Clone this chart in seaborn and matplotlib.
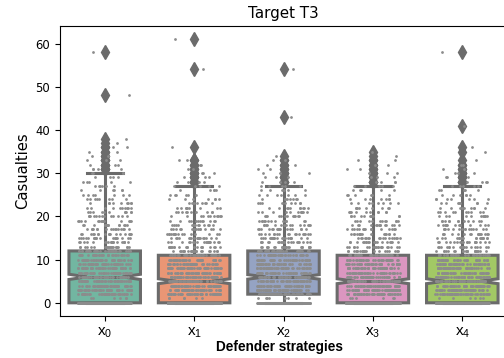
import numpy as np
import pandas as pd
import matplotlib
matplotlib.use("Agg")
import matplotlib.pyplot as plt
import seaborn as sns

# Casualty counts per integer value (index = casualties) for each strategy
counts_x0 = [280, 6, 40, 45, 45, 45, 45, 45, 42, 40, 38, 36, 34,
             22, 20, 19, 18, 16, 15, 14, 13, 11, 10, 9, 8, 7, 6, 6, 5, 4, 4,
             4, 3, 3, 2, 2, 2, 1, 1]
counts_x1 = [290, 6, 45, 48, 48, 48, 46, 44, 42, 40, 36, 34,
             22, 20, 19, 18, 16, 15, 14, 12, 11, 10, 9, 8, 7, 6, 5, 5,
             4, 3, 3, 2, 2, 2, 0, 0, 1]
counts_x2 = [200, 8, 60, 50, 48, 46, 46, 44, 42, 40, 38, 34, 34,
             22, 20, 19, 18, 16, 15, 13, 12, 11, 10, 9, 8, 7, 6, 5,
             4, 3, 3, 2, 2, 2, 1]
counts_x3 = [285, 6, 46, 48, 48, 48, 46, 44, 42, 40, 36, 34,
             22, 20, 19, 17, 16, 15, 14, 12, 11, 10, 9, 8, 7, 6, 5, 5,
             4, 3, 3, 2, 2, 2, 1, 1]
counts_x4 = [280, 6, 45, 48, 48, 50, 46, 44, 42, 40, 36, 34,
             22, 20, 19, 17, 16, 15, 14, 12, 11, 10, 9, 8, 7, 6, 5, 5,
             4, 3, 3, 2, 2, 1, 0, 1, 1]
# isolated extreme values
extreme_x0 = [48, 58]
extreme_x1 = [54, 61]
extreme_x2 = [43, 54]
extreme_x3 = []
extreme_x4 = [41, 58]

strategies = ["x$_0$", "x$_1$", "x$_2$", "x$_3$", "x$_4$"]
all_counts = [counts_x0, counts_x1, counts_x2, counts_x3, counts_x4]
all_extreme = [extreme_x0, extreme_x1, extreme_x2, extreme_x3, extreme_x4]

rows = []
for s, c, e in zip(strategies, all_counts, all_extreme):
    vals = np.concatenate([np.repeat(np.arange(len(c)), c), np.array(e, dtype=int)])
    rows.append(pd.DataFrame({"strategy": s, "casualties": vals}))
df = pd.concat(rows, ignore_index=True)
df["strategy"] = pd.Categorical(df["strategy"], categories=strategies, ordered=True)

plt.rcParams["mathtext.default"] = "regular"

fig = plt.figure(figsize=(5.04, 3.58), dpi=100)
ax = fig.add_axes([60 / 504, 42 / 358, 447 / 504, 290 / 358])

line_gray = "#6b6b6b"
sns.boxplot(data=df, x="strategy", y="casualties", hue="strategy",
            palette="Set2", legend=False, notch=True, width=0.8,
            linewidth=2.2, linecolor=line_gray, ax=ax,
            flierprops=dict(marker="d", markersize=7,
                            markerfacecolor=line_gray,
                            markeredgecolor=line_gray))
np.random.seed(3)
sns.stripplot(data=df, x="strategy", y="casualties", color="0.55",
              size=2, jitter=0.3, linewidth=0, ax=ax)

ax.set_xlim(-0.5, 4.5)
ax.set_title("Target T3", fontsize=10.9)
ax.set_ylabel("Casualties", fontsize=10.6)
ax.set_xlabel("Defender strategies", fontsize=9.8,
              family="Liberation Sans", fontweight="bold")
ax.xaxis.set_label_coords(0.49, -0.083)
ax.tick_params(axis="y", labelsize=8.4)
for lab in ax.get_xticklabels():
    lab.set_fontfamily("Liberation Sans")
    lab.set_fontsize(11)

fig.savefig("out.png", dpi=100)
